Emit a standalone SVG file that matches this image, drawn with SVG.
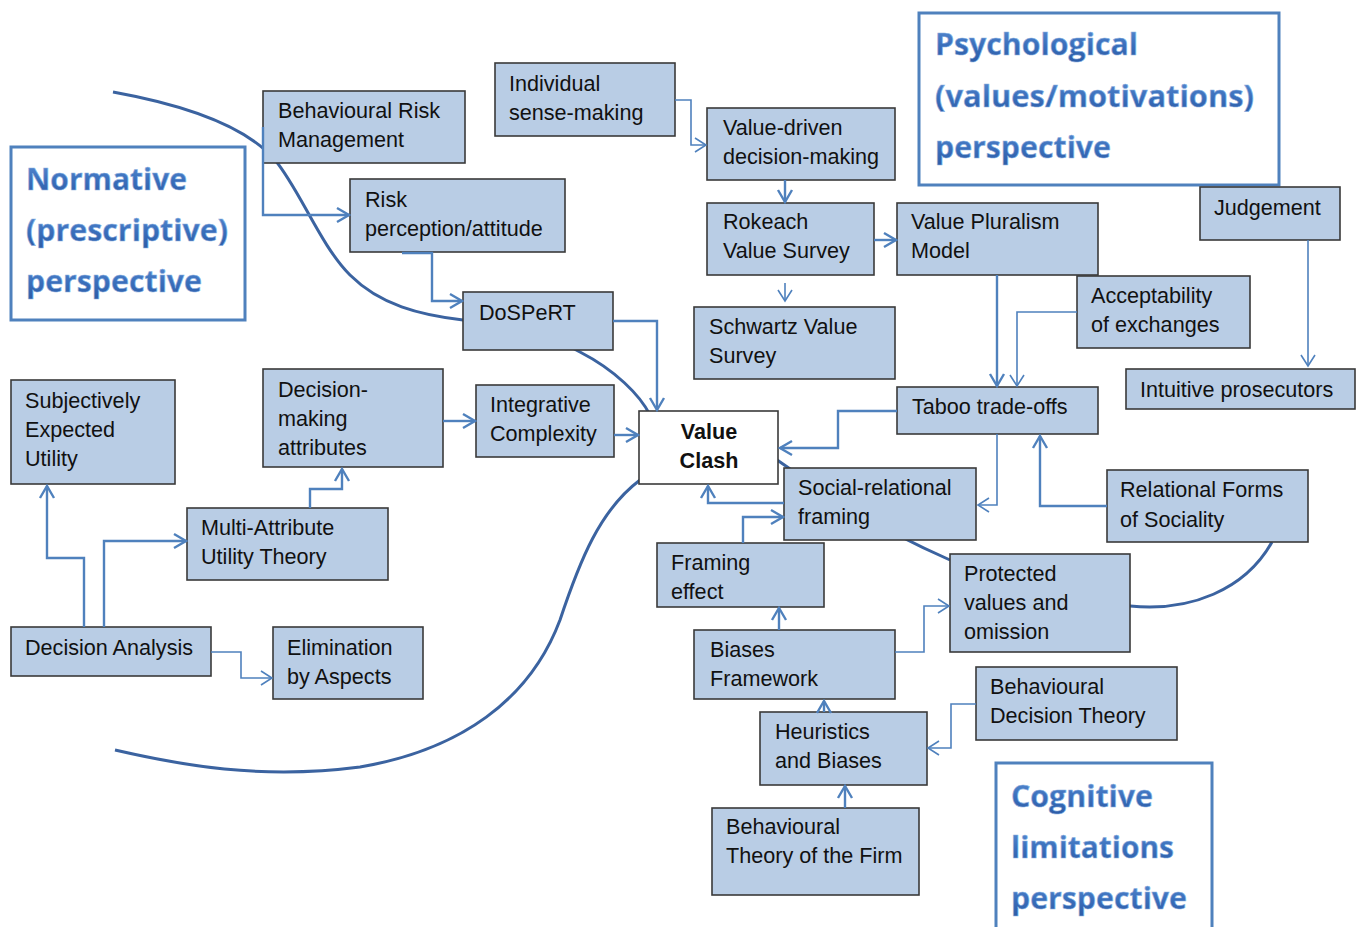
<svg xmlns="http://www.w3.org/2000/svg" width="1360" height="927" viewBox="0 0 1360 927">
  <style>
    .box rect { fill: #b9cde5; stroke: #3a3a3a; stroke-width: 1.6; }
    .box text { font-family: "Liberation Sans", Arial, sans-serif; font-size: 21.6px; fill: #111; }
    .clash rect { fill: #ffffff; stroke: #3a3a3a; stroke-width: 1.6; }
    .clash text { font-family: "Liberation Sans", Arial, sans-serif; font-size: 21.6px; font-weight: bold; fill: #111; text-anchor: middle; }
    .persp rect { fill: #ffffff; stroke: #4f81bd; stroke-width: 3; }
    .persp text { font-family: "Open Sans", "Lato", sans-serif; font-weight: 700; font-size: 31px; fill: url(#headFill); stroke: #8fb3e2; stroke-width: 0.6; }
    .curve { fill: none; stroke: #3b63a0; stroke-width: 3; }
    .link { fill: none; stroke: #4f81bd; stroke-width: 2.4; marker-end: url(#arrowThick); }
    .link.thin { stroke-width: 1.6; marker-end: url(#arrowThin); }
  </style>
  <defs>
    <linearGradient id="headFill" x1="0" y1="0" x2="0" y2="1">
      <stop offset="0" stop-color="#5f92d6"/>
      <stop offset="0.55" stop-color="#3a6fbb"/>
      <stop offset="1" stop-color="#2b5aa3"/>
    </linearGradient>
    <marker id="arrowThick" markerUnits="userSpaceOnUse" viewBox="-14 -9 16 18" markerWidth="16" markerHeight="18" refX="0" refY="0" orient="auto">
      <path d="M-12,-7 L0,0 L-12,7" fill="none" stroke="#4f81bd" stroke-width="2.4"/>
    </marker>
    <marker id="arrowThin" markerUnits="userSpaceOnUse" viewBox="-14 -9 16 18" markerWidth="16" markerHeight="18" refX="0" refY="0" orient="auto">
      <path d="M-11,-7 L0,0 L-11,7" fill="none" stroke="#4f81bd" stroke-width="1.6"/>
    </marker>
  </defs>

  <rect width="1360" height="927" fill="#ffffff"/>

  <!-- perspective boundary curves -->
  <g id="boundaries">
    <path class="curve" d="M113,92 C185,105 245,125 275,160 C300,190 320,245 350,275 C380,305 420,315 463,320 C520,330 560,340 580,352 C615,370 640,395 650,415"/>
    <path class="curve" d="M640,480 C600,510 580,560 560,620 C530,700 460,750 360,767 C260,780 180,765 115,750"/>
    <path class="curve" d="M770,455 C820,490 870,525 950,560"/>
    <path class="curve" d="M1130,606 C1190,612 1245,590 1272,542"/>
  </g>

  <!-- perspective headings -->
  <g id="normative" class="persp">
    <rect x="11" y="147" width="234" height="173"/>
    <text x="26" y="190" textLength="161" lengthAdjust="spacingAndGlyphs">Normative</text>
    <text x="26" y="241" textLength="202" lengthAdjust="spacingAndGlyphs">(prescriptive)</text>
    <text x="26" y="292" textLength="176" lengthAdjust="spacingAndGlyphs">perspective</text>
  </g>
  <g id="psychological" class="persp">
    <rect x="919" y="13" width="360" height="172"/>
    <text x="935" y="55" textLength="203" lengthAdjust="spacingAndGlyphs">Psychological</text>
    <text x="935" y="107" textLength="319" lengthAdjust="spacingAndGlyphs">(values/motivations)</text>
    <text x="935" y="158" textLength="176" lengthAdjust="spacingAndGlyphs">perspective</text>
  </g>
  <g id="cognitive" class="persp">
    <rect x="996" y="763" width="216" height="175"/>
    <text x="1011" y="807" textLength="142" lengthAdjust="spacingAndGlyphs">Cognitive</text>
    <text x="1011" y="858" textLength="163" lengthAdjust="spacingAndGlyphs">limitations</text>
    <text x="1011" y="909" textLength="176" lengthAdjust="spacingAndGlyphs">perspective</text>
  </g>

  <!-- concept nodes -->
  <g id="behavioural-risk-management" class="box">
    <rect x="263" y="91" width="202" height="72"/>
    <text x="278" y="118">Behavioural Risk</text>
    <text x="278" y="147">Management</text>
  </g>
  <g id="risk-perception" class="box">
    <rect x="350" y="179" width="215" height="73"/>
    <text x="365" y="207">Risk</text>
    <text x="365" y="236">perception/attitude</text>
  </g>
  <g id="dospert" class="box">
    <rect x="463" y="292" width="150" height="58"/>
    <text x="479" y="320">DoSPeRT</text>
  </g>
  <g id="individual-sense-making" class="box">
    <rect x="495" y="63" width="180" height="73"/>
    <text x="509" y="91">Individual</text>
    <text x="509" y="120">sense-making</text>
  </g>
  <g id="value-driven" class="box">
    <rect x="707" y="108" width="188" height="72"/>
    <text x="723" y="135">Value-driven</text>
    <text x="723" y="164">decision-making</text>
  </g>
  <g id="rokeach" class="box">
    <rect x="707" y="203" width="167" height="72"/>
    <text x="723" y="229">Rokeach</text>
    <text x="723" y="258">Value Survey</text>
  </g>
  <g id="value-pluralism" class="box">
    <rect x="897" y="203" width="201" height="72"/>
    <text x="911" y="229">Value Pluralism</text>
    <text x="911" y="258">Model</text>
  </g>
  <g id="schwartz" class="box">
    <rect x="694" y="307" width="201" height="72"/>
    <text x="709" y="334">Schwartz Value</text>
    <text x="709" y="363">Survey</text>
  </g>
  <g id="judgement" class="box">
    <rect x="1200" y="187" width="140" height="53"/>
    <text x="1214" y="215">Judgement</text>
  </g>
  <g id="acceptability" class="box">
    <rect x="1077" y="276" width="173" height="72"/>
    <text x="1091" y="303">Acceptability</text>
    <text x="1091" y="332">of exchanges</text>
  </g>
  <g id="intuitive-prosecutors" class="box">
    <rect x="1126" y="369" width="229" height="40"/>
    <text x="1140" y="397">Intuitive prosecutors</text>
  </g>
  <g id="taboo" class="box">
    <rect x="897" y="387" width="201" height="47"/>
    <text x="912" y="414">Taboo trade-offs</text>
  </g>
  <g id="value-clash" class="clash">
    <rect x="639" y="411" width="139" height="73"/>
    <text x="709" y="439">Value</text>
    <text x="709" y="468">Clash</text>
  </g>
  <g id="social-relational" class="box">
    <rect x="784" y="468" width="192" height="72"/>
    <text x="798" y="495">Social-relational</text>
    <text x="798" y="524">framing</text>
  </g>
  <g id="relational-forms" class="box">
    <rect x="1107" y="470" width="201" height="72"/>
    <text x="1120" y="497">Relational Forms</text>
    <text x="1120" y="527">of Sociality</text>
  </g>
  <g id="framing-effect" class="box">
    <rect x="657" y="543" width="167" height="64"/>
    <text x="671" y="570">Framing</text>
    <text x="671" y="599">effect</text>
  </g>
  <g id="protected-values" class="box">
    <rect x="950" y="554" width="180" height="98"/>
    <text x="964" y="581">Protected</text>
    <text x="964" y="610">values and</text>
    <text x="964" y="639">omission</text>
  </g>
  <g id="biases-framework" class="box">
    <rect x="694" y="630" width="201" height="69"/>
    <text x="710" y="657">Biases</text>
    <text x="710" y="686">Framework</text>
  </g>
  <g id="heuristics" class="box">
    <rect x="760" y="712" width="167" height="73"/>
    <text x="775" y="739">Heuristics</text>
    <text x="775" y="768">and Biases</text>
  </g>
  <g id="behavioural-decision-theory" class="box">
    <rect x="976" y="667" width="201" height="73"/>
    <text x="990" y="694">Behavioural</text>
    <text x="990" y="723">Decision Theory</text>
  </g>
  <g id="behavioural-theory-firm" class="box">
    <rect x="712" y="808" width="207" height="87"/>
    <text x="726" y="834">Behavioural</text>
    <text x="726" y="863">Theory of the Firm</text>
  </g>
  <g id="seu" class="box">
    <rect x="11" y="380" width="164" height="104"/>
    <text x="25" y="408">Subjectively</text>
    <text x="25" y="437">Expected</text>
    <text x="25" y="466">Utility</text>
  </g>
  <g id="decision-making-attributes" class="box">
    <rect x="263" y="369" width="180" height="98"/>
    <text x="278" y="397">Decision-</text>
    <text x="278" y="426">making</text>
    <text x="278" y="455">attributes</text>
  </g>
  <g id="integrative-complexity" class="box">
    <rect x="476" y="385" width="138" height="72"/>
    <text x="490" y="412">Integrative</text>
    <text x="490" y="441">Complexity</text>
  </g>
  <g id="maut" class="box">
    <rect x="187" y="508" width="201" height="72"/>
    <text x="201" y="535">Multi-Attribute</text>
    <text x="201" y="564">Utility Theory</text>
  </g>
  <g id="decision-analysis" class="box">
    <rect x="11" y="627" width="200" height="49"/>
    <text x="25" y="655">Decision Analysis</text>
  </g>
  <g id="elimination-by-aspects" class="box">
    <rect x="273" y="627" width="150" height="72"/>
    <text x="287" y="655">Elimination</text>
    <text x="287" y="684">by Aspects</text>
  </g>

  <!-- connectors -->
  <g id="connectors">
    <path class="link" d="M263,127 V215 H349"/>
    <path class="link" d="M402,253 H432 V301 H462"/>
    <path class="link" d="M613,321 H657 V410"/>
    <path class="link" d="M614,435 H638"/>
    <path class="link" d="M443,421 H475"/>
    <path class="link" d="M310,508 V489 H342 V469"/>
    <path class="link" d="M84,627 V558 H47 V486"/>
    <path class="link" d="M104,627 V541 H186"/>
    <path class="link thin" d="M211,652 H241 V678 H272"/>
    <path class="link thin" d="M675,100 H691 V145 H706"/>
    <path class="link" d="M785,180 V202"/>
    <path class="link thin" d="M785,283 V301"/>
    <path class="link" d="M874,240 H896"/>
    <path class="link" d="M997,275 V386"/>
    <path class="link thin" d="M1077,312 H1017 V386"/>
    <path class="link thin" d="M1308,240 V366"/>
    <path class="link" d="M897,411 H838 V448 H780"/>
    <path class="link thin" d="M997,434 V505 H978"/>
    <path class="link" d="M1107,506 H1040 V436"/>
    <path class="link" d="M784,503 H708 V486"/>
    <path class="link" d="M743,543 V517 H783"/>
    <path class="link" d="M779,630 V608"/>
    <path class="link thin" d="M895,652 H924 V606 H949"/>
    <path class="link" d="M824,712 V701"/>
    <path class="link thin" d="M976,704 H951 V748 H928"/>
    <path class="link" d="M845,808 V786"/>
  </g>
</svg>
